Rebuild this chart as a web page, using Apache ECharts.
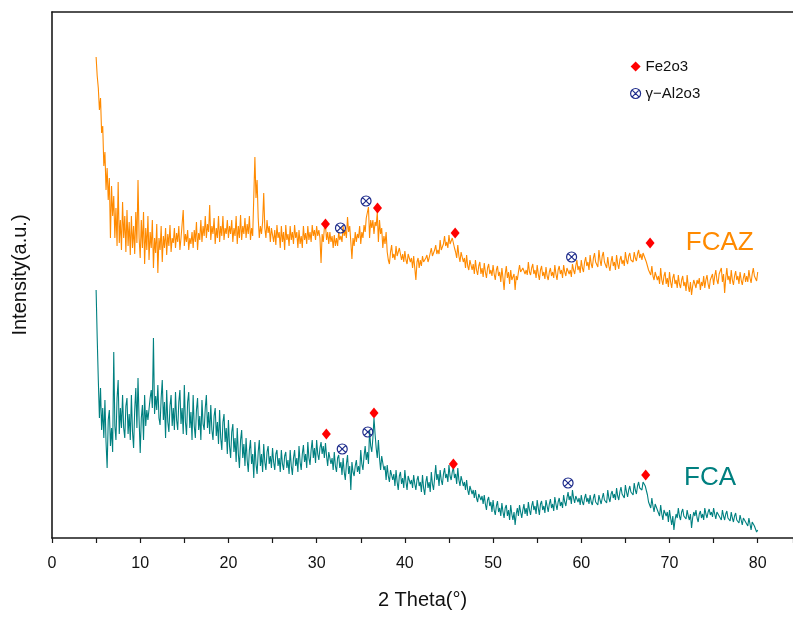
<!DOCTYPE html>
<html style="height: 100%">
<head>
 <meta charset="utf-8">
 <title>XRD FCAZ / FCA</title>
 <script src="https://cdn.jsdelivr.net/npm/echarts@6/dist/echarts.min.js"></script>
</head>
<body style="height: 100%; margin: 0; background: #fff">
 <div id="container" style="width: 793px; height: 622px"></div>
 <script type="text/javascript">
    // 2 Theta runs from 5 to 80 in steps of 0.125, one row per degree
    var thetaStart = 5;
    var thetaStep = 0.125;
    var xTicks = [0, 10, 20, 30, 40, 50, 60, 70, 80];

    var fcaz = [
        481, 462, 450, 428, 440, 405, 412, 372,
        386, 348, 370, 338, 360, 300, 352, 322,
        342, 300, 330, 292, 356, 295, 318, 288,
        336, 300, 322, 286, 328, 292, 316, 283,
        322, 290, 312, 284, 326, 295, 358, 300,
        280, 318, 290, 326, 274, 310, 288, 322,
        278, 306, 290, 318, 270, 300, 285, 314,
        265, 300, 288, 312, 276, 302, 290, 310,
        283, 304, 292, 313, 286, 300, 295, 310,
        290, 305, 296, 312, 288, 300, 298, 328,
        292, 304, 296, 308, 288, 300, 294, 306,
        290, 308, 296, 316, 288, 305, 298, 318,
        296, 312, 302, 322, 300, 314, 306, 333,
        298, 312, 304, 320, 294, 310, 300, 322,
        296, 312, 302, 322, 298, 310, 304, 318,
        300, 312, 304, 318, 296, 310, 302, 322,
        294, 312, 300, 323, 298, 312, 304, 320,
        300, 314, 304, 322, 298, 310, 302, 304,
        381, 340, 358, 320, 300, 312, 304, 316,
        345, 310, 300, 318, 305, 312, 296, 310,
        312, 296, 308, 293, 313, 300, 306, 290,
        312, 296, 306, 288, 313, 298, 304, 292,
        312, 298, 306, 294, 313, 300, 306, 290,
        308, 294, 302, 290, 312, 298, 305, 294,
        312, 298, 306, 296, 313, 302, 308, 298,
        312, 302, 308, 300, 275, 304, 296, 310,
        313, 298, 306, 294, 306, 296, 302, 290,
        303, 292, 300, 292, 306, 298, 302, 296,
        312, 302, 308, 300, 321, 306, 312, 296,
        279, 300, 292, 306, 296, 304, 300, 312,
        294, 306, 300, 313, 306, 320, 318, 331,
        300, 318, 310, 318, 304, 316, 312, 326,
        296, 318, 304, 310, 290, 302, 294, 306,
        286, 278, 274, 286, 293, 280, 284, 278,
        292, 282, 280, 290, 290, 278, 284, 276,
        287, 278, 274, 284, 286, 276, 280, 270,
        282, 270, 258, 276, 280, 270, 278, 272,
        282, 276, 274, 280, 283, 276, 280, 278,
        290, 282, 280, 288, 293, 284, 288, 284,
        298, 288, 286, 294, 302, 292, 296, 290,
        303, 294, 292, 300, 301, 290, 286, 280,
        293, 282, 276, 286, 286, 276, 280, 270,
        283, 272, 268, 278, 280, 268, 274, 264,
        278, 268, 263, 272, 276, 264, 270, 261,
        275, 266, 260, 270, 274, 264, 268, 262,
        273, 264, 258, 268, 272, 262, 266, 256,
        270, 260, 248, 264, 272, 260, 266, 254,
        268, 258, 256, 264, 248, 262, 258, 266,
        273, 266, 264, 270, 272, 264, 268, 263,
        276, 266, 263, 270, 274, 264, 268, 260,
        273, 264, 258, 268, 272, 262, 266, 259,
        271, 262, 258, 266, 270, 262, 266, 260,
        273, 264, 258, 268, 272, 264, 268, 260,
        273, 266, 262, 270, 272, 264, 268, 261,
        274, 268, 264, 272, 278, 268, 272, 265,
        278, 270, 266, 276, 281, 272, 276, 268,
        283, 274, 270, 280, 285, 276, 278, 271,
        288, 278, 272, 282, 286, 276, 278, 270,
        281, 272, 267, 276, 282, 272, 276, 268,
        283, 274, 269, 278, 282, 274, 278, 272,
        286, 278, 274, 282, 285, 278, 280, 276,
        286, 280, 277, 284, 288, 280, 284, 278,
        285, 282, 280, 276, 275, 268, 270, 263,
        272, 262, 258, 266, 268, 258, 262, 254,
        270, 258, 253, 262, 266, 254, 260, 251,
        266, 256, 250, 260, 264, 254, 258, 250,
        263, 254, 250, 258, 262, 252, 256, 247,
        263, 252, 246, 256, 243, 252, 258, 260,
        250, 258, 254, 260, 248, 256, 252, 262,
        250, 258, 263, 254, 249, 258, 256, 264,
        253, 262, 268, 258, 254, 264, 262, 270,
        256, 264, 245, 260, 270, 258, 262, 254,
        268, 258, 253, 262, 267, 258, 262, 254,
        266, 258, 253, 260, 265, 256, 262, 256,
        268, 260, 255, 264, 270, 262, 264, 257,
        266
    ];

    var fca = [
        248, 200, 158, 120, 150, 108, 130, 100,
        138, 96, 70, 118, 128, 92, 110, 86,
        186, 112, 98, 140, 158, 104, 130, 110,
        143, 110, 100, 132, 140, 104, 124, 98,
        143, 106, 90, 128, 150, 110, 160, 118,
        85, 120, 133, 98, 143, 112, 128, 118,
        120, 140, 148, 130, 200, 124, 142, 128,
        153, 120, 113, 140, 158, 118, 136, 100,
        148, 116, 106, 132, 143, 112, 130, 108,
        146, 118, 108, 136, 148, 114, 130, 104,
        153, 116, 103, 136, 146, 110, 126, 98,
        143, 112, 100, 128, 140, 108, 122, 98,
        138, 114, 108, 130, 143, 110, 126, 104,
        133, 108, 98, 122, 130, 102, 116, 94,
        128, 100, 88, 116, 124, 96, 110, 84,
        118, 92, 80, 106, 114, 86, 100, 76,
        110, 84, 70, 98, 108, 80, 94, 72,
        100, 78, 66, 88, 98, 74, 84, 60,
        96, 74, 64, 86, 98, 72, 84, 66,
        94, 76, 68, 86, 92, 74, 82, 70,
        90, 76, 68, 84, 88, 72, 80, 66,
        88, 74, 68, 82, 86, 70, 78, 64,
        88, 72, 63, 80, 88, 72, 80, 66,
        92, 76, 68, 84, 93, 76, 84, 70,
        96, 80, 73, 88, 98, 80, 90, 75,
        98, 84, 78, 90, 96, 84, 92, 80,
        95, 82, 72, 86, 88, 74, 80, 68,
        86, 72, 66, 80, 83, 70, 76, 63,
        80, 66, 58, 74, 83, 64, 72, 48,
        76, 66, 62, 72, 78, 66, 72, 64,
        88, 74, 68, 82, 92, 78, 86, 74,
        108, 92, 86, 100, 120, 104, 90, 80,
        98, 80, 68, 82, 82, 68, 72, 58,
        73, 62, 56, 68, 70, 58, 64, 52,
        68, 56, 48, 62, 66, 54, 60, 50,
        68, 56, 48, 62, 64, 54, 58, 50,
        63, 54, 48, 58, 62, 52, 56, 46,
        63, 50, 43, 56, 62, 50, 56, 46,
        66, 54, 48, 60, 73, 58, 64, 52,
        68, 58, 53, 64, 70, 60, 64, 56,
        73, 62, 58, 66, 71, 60, 64, 54,
        70, 58, 52, 62, 62, 52, 56, 48,
        58, 48, 43, 52, 54, 44, 48, 40,
        48, 40, 36, 44, 46, 38, 42, 34,
        43, 34, 28, 38, 41, 32, 36, 26,
        38, 28, 23, 32, 37, 26, 30, 22,
        35, 26, 20, 30, 33, 22, 28, 18,
        33, 24, 18, 26, 13, 24, 30, 22,
        33, 26, 20, 28, 34, 24, 30, 22,
        36, 28, 23, 32, 37, 28, 32, 24,
        38, 30, 23, 34, 37, 28, 32, 25,
        38, 32, 26, 34, 39, 30, 34, 27,
        41, 34, 28, 36, 40, 32, 36, 30,
        43, 36, 32, 40, 46, 38, 42, 34,
        48, 40, 35, 42, 43, 36, 40, 33,
        43, 36, 33, 40, 44, 36, 40, 34,
        43, 36, 33, 40, 44, 36, 38, 33,
        43, 38, 34, 40, 45, 38, 40, 35,
        48, 40, 36, 44, 47, 40, 44, 38,
        50, 42, 38, 46, 51, 44, 46, 40,
        53, 46, 41, 48, 52, 46, 48, 43,
        55, 48, 44, 52, 56, 50, 52, 48,
        56, 54, 52, 50, 43, 36, 38, 30,
        40, 32, 26, 34, 36, 28, 30, 22,
        33, 24, 18, 28, 30, 22, 26, 16,
        28, 20, 13, 22, 8, 18, 24, 20,
        30, 22, 18, 26, 29, 22, 24, 19,
        28, 22, 18, 24, 10, 20, 26, 22,
        28, 20, 16, 24, 27, 20, 24, 18,
        30, 24, 20, 26, 29, 23, 26, 21,
        30, 24, 19, 26, 28, 22, 24, 18,
        28, 22, 18, 24, 27, 20, 22, 17,
        26, 20, 16, 22, 25, 18, 20, 15,
        23, 18, 13, 20, 22, 16, 18, 12,
        20, 14, 8, 16, 18, 12, 14, 6,
        8
    ];

    // peak markers [2theta, intensity]
    var fe2o3Peaks = [[31.0, 314], [36.9, 330], [45.7, 305], [67.8, 295],
                      [31.1, 104], [36.5, 125], [45.5, 74], [67.3, 63]];
    var al2o3Peaks = [[32.7, 310], [35.6, 337], [58.9, 281],
                      [32.9, 89], [35.8, 106], [58.5, 55]];

    var orange = '#ff8a00';
    var teal = '#008080';
    var markBlue = '#1f2d8c';
    var circX = 'path://M0,5A5,5 0 1 1 10,5A5,5 0 1 1 0,5ZM1.6,1.6L8.4,8.4M8.4,1.6L1.6,8.4';
    var font = '"Liberation Sans", Arial, sans-serif';

    var curveLabels = [
        { name: 'FCAZ', value: [75.7, 295], label: { color: orange } },
        { name: 'FCA', value: [74.6, 60], label: { color: teal } }
    ];

    function toPairs(values) {
        var out = [];
        for (var i = 0; i < values.length; i++) {
            out.push([thetaStart + i * thetaStep, values[i]]);
        }
        return out;
    }

    var dom = document.getElementById("container");
    var myChart = echarts.init(dom, null, { renderer: 'canvas' });
    myChart.setOption({
        animation: false,
        backgroundColor: '#fff',
        textStyle: { fontFamily: font },
        grid: { left: 52, right: 0, top: 12, bottom: 84 },
        legend: {
            orient: 'vertical',
            left: 625,
            top: 54,
            itemGap: 12,
            itemWidth: 10,
            itemHeight: 10,
            textStyle: { fontSize: 15, color: '#111', fontFamily: font },
            data: [
                { name: 'Fe2o3', icon: 'diamond', itemStyle: { color: '#ff0000' } },
                { name: 'γ−Al2o3', icon: circX,
                  itemStyle: { color: 'rgba(0,0,0,0)', borderColor: markBlue, borderWidth: 1.2 } }
            ]
        },
        xAxis: [{
            type: 'value',
            min: 0,
            max: 84,
            interval: 10,
            name: '2 Theta(°)',
            nameLocation: 'middle',
            nameGap: 52,
            nameTextStyle: { fontSize: 20, color: '#111', fontFamily: font },
            axisLine: { show: true, lineStyle: { color: '#1a1a1a', width: 1.6 } },
            axisTick: { show: true, length: 5, lineStyle: { color: '#1a1a1a', width: 1.2 } },
            minorTick: { show: true, splitNumber: 2, length: 5, lineStyle: { color: '#1a1a1a', width: 1.2 } },
            axisLabel: {
                fontSize: 16, color: '#111', margin: 18, showMaxLabel: false,
                formatter: function (v) { return xTicks.indexOf(v) >= 0 ? v : ''; }
            },
            splitLine: { show: false }
        }, {
            type: 'value',
            position: 'top',
            min: 0,
            max: 84,
            axisLine: { show: true, lineStyle: { color: '#1a1a1a', width: 1.6 } },
            axisTick: { show: false },
            axisLabel: { show: false },
            splitLine: { show: false }
        }],
        yAxis: {
            type: 'value',
            min: 0,
            max: 526,
            name: 'Intensity(a.u.)',
            nameLocation: 'middle',
            nameGap: 22,
            nameTextStyle: { fontSize: 20, color: '#111', fontFamily: font },
            axisLine: { show: true, lineStyle: { color: '#1a1a1a', width: 1.6 } },
            axisTick: { show: false },
            axisLabel: { show: false },
            splitLine: { show: false }
        },
        series: [{
            name: 'FCAZ',
            type: 'line',
            data: toPairs(fcaz),
            showSymbol: false,
            symbol: 'none',
            lineStyle: { color: orange, width: 1.1 },
            itemStyle: { color: orange },
            z: 2
        }, {
            name: 'FCA',
            type: 'line',
            data: toPairs(fca),
            showSymbol: false,
            symbol: 'none',
            lineStyle: { color: teal, width: 1.1 },
            itemStyle: { color: teal },
            z: 2
        }, {
            name: 'Fe2o3',
            type: 'scatter',
            data: fe2o3Peaks,
            symbol: 'diamond',
            symbolSize: [9, 11],
            itemStyle: { color: '#ff0000', opacity: 1 },
            z: 5
        }, {
            name: 'γ−Al2o3',
            type: 'scatter',
            data: al2o3Peaks,
            symbol: circX,
            symbolSize: 10,
            itemStyle: { color: 'rgba(0,0,0,0)', borderColor: markBlue, borderWidth: 1.2, opacity: 1 },
            z: 5
        }, {
            name: 'labels',
            type: 'scatter',
            data: curveLabels,
            symbolSize: 1,
            silent: true,
            itemStyle: { color: 'rgba(0,0,0,0)' },
            label: {
                show: true,
                position: 'inside',
                formatter: '{b}',
                fontSize: 26,
                opacity: 1,
                fontFamily: font
            },
            z: 6
        }]
    });
</script>
</body>
</html>
